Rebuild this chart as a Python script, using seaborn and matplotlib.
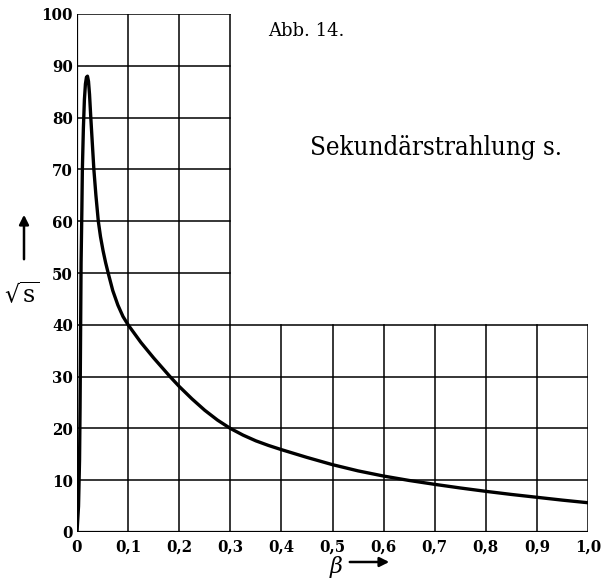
import matplotlib
matplotlib.use("Agg")
import matplotlib.pyplot as plt
import seaborn as sns
import pandas as pd

# --- data ---
beta = [0.0, 0.003, 0.005, 0.006, 0.007, 0.008, 0.0095, 0.0105, 0.0125, 0.0145,
        0.0165, 0.0185, 0.0205, 0.0225, 0.0245, 0.027, 0.030, 0.033, 0.037,
        0.0417, 0.046, 0.051, 0.056, 0.061, 0.070, 0.080, 0.090, 0.100, 0.125,
        0.15, 0.182, 0.20, 0.225, 0.25, 0.275, 0.30, 0.325, 0.35, 0.375, 0.40,
        0.45, 0.50, 0.55, 0.60, 0.65, 0.70, 0.75, 0.80, 0.85, 0.90, 0.95, 1.00]
sqrt_s = [0.0, 5.0, 14.0, 24.0, 38.0, 52.0, 62.0, 70.0, 78.0, 83.5,
          86.5, 87.8, 88.0, 87.0, 84.5, 80.0, 75.0, 70.0, 65.0,
          60.0, 57.0, 54.3, 52.0, 50.0, 46.6, 43.8, 41.6, 40.0, 36.6,
          33.6, 30.0, 28.1, 25.7, 23.5, 21.6, 20.0, 18.7, 17.6, 16.7, 15.9,
          14.4, 13.0, 11.8, 10.8, 9.95, 9.2, 8.5, 7.85, 7.25, 6.7, 6.15, 5.65]

x_ticks = [0.0, 0.1, 0.2, 0.3, 0.4, 0.5, 0.6, 0.7, 0.8, 0.9, 1.0]
x_labels = ["0", "0,1", "0,2", "0,3", "0,4", "0,5", "0,6", "0,7", "0,8", "0,9", "1,0"]
y_ticks = [0, 10, 20, 30, 40, 50, 60, 70, 80, 90, 100]
y_labels = [str(v) for v in y_ticks]

# the grid is L-shaped: full height only up to beta=0.3, elsewhere up to 40
x_cut = 0.3
y_cut = 40

df = pd.DataFrame({"beta": beta, "sqrt_s": sqrt_s})

sns.set_theme(style="white")
plt.rcParams["font.family"] = ["DejaVu Serif"]
plt.rcParams["mathtext.fontset"] = "dejavuserif"
plt.rcParams["text.color"] = "black"
plt.rcParams["xtick.color"] = "black"
plt.rcParams["ytick.color"] = "black"

fig = plt.figure(figsize=(6.02, 5.79), dpi=100)
ax = fig.add_axes([77 / 602, 47 / 579, 511 / 602, 518 / 579])

# grid / frame
for xv in x_ticks:
    top = 100 if xv <= x_cut + 1e-9 else y_cut
    ax.plot([xv, xv], [0, top], color="black", lw=1.1, zorder=1, solid_capstyle="projecting")
for yv in y_ticks:
    right = 1.0 if yv <= y_cut else x_cut
    ax.plot([0, right], [yv, yv], color="black", lw=1.1, zorder=1, solid_capstyle="projecting")
ax.plot([0, 0], [0, 100], color="black", lw=1.6, zorder=1)
ax.plot([0, 1.0], [0, 0], color="black", lw=1.6, zorder=1)

sns.lineplot(data=df, x="beta", y="sqrt_s", sort=False, ax=ax, color="black",
             lw=2.4, zorder=3)
ax.lines[-1].set_solid_joinstyle("round")
ax.lines[-1].set_solid_capstyle("round")

ax.set_xlim(0, 1.0)
ax.set_ylim(0, 100)
for s in ax.spines.values():
    s.set_visible(False)
ax.set_xticks(x_ticks)
ax.set_xticklabels(x_labels, fontsize=12, fontweight="bold", fontstretch="condensed")
ax.set_yticks(y_ticks)
ax.set_yticklabels(y_labels, fontsize=12, fontweight="bold", fontstretch="condensed")
ax.tick_params(axis="x", length=0, pad=5)
ax.tick_params(axis="y", length=0, pad=3)
ax.set_xlabel("")
ax.set_ylabel("")
ax.patch.set_alpha(0)

# captions
fig.text(268 / 602, 1 - 31 / 579, "Abb. 14.", fontsize=13, ha="left", va="center")
fig.text(436 / 602, 1 - 148 / 579, "Sekundärstrahlung s.", fontsize=18.5,
         fontstretch="condensed", ha="center", va="center")

# axis labels with arrows
fig.text(22 / 602, 1 - 295 / 579, r"$\sqrt{\mathrm{s}}$", fontsize=17, ha="center", va="center")
ax.annotate("", xy=(24 / 602, 1 - 212 / 579), xytext=(24 / 602, 1 - 262 / 579),
            xycoords="figure fraction", textcoords="figure fraction",
            arrowprops=dict(arrowstyle="-|>", color="black", lw=1.8, mutation_scale=14))
fig.text(336 / 602, 1 - 567 / 579, r"$\beta$", fontsize=16, ha="center", va="center")
ax.annotate("", xy=(392 / 602, 1 - 562 / 579), xytext=(347 / 602, 1 - 562 / 579),
            xycoords="figure fraction", textcoords="figure fraction",
            arrowprops=dict(arrowstyle="-|>", color="black", lw=1.8, mutation_scale=14))

fig.savefig("out.png", dpi=100)
